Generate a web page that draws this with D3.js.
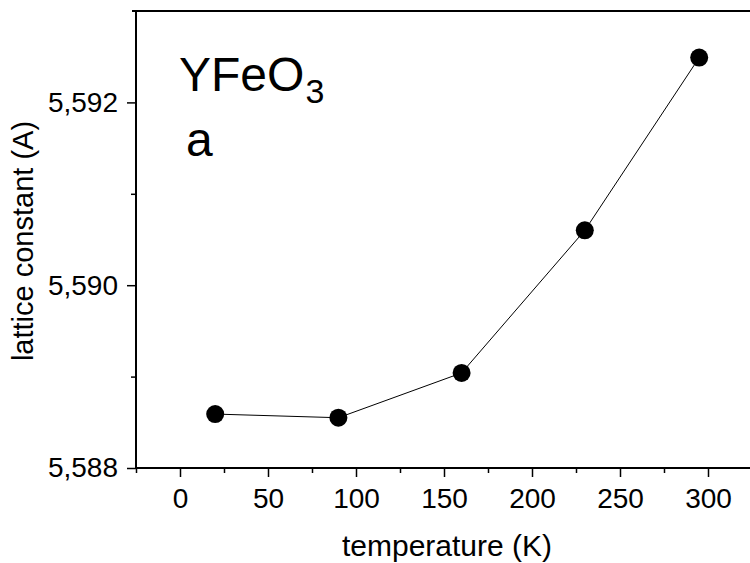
<!DOCTYPE html>
<html><head><meta charset="utf-8">
<script src="https://cdn.jsdelivr.net/npm/d3@7"></script>
<style>body{margin:0;background:#fff}svg{display:block}text{font-family:"Liberation Sans",Arial,sans-serif;fill:#000}</style>
</head><body>
<svg id="c" width="750" height="563"></svg>
<script>
const temperature = [20, 90, 160, 230, 295];
const latticeA = [5.58859, 5.58855, 5.58904, 5.5906, 5.59249];
const xTicks = [0, 50, 100, 150, 200, 250, 300];
const xMinorTicks = [-25, 25, 75, 125, 175, 225, 275, 325];
const yTicks = [5.588, 5.590, 5.592];
const yMinorTicks = [5.589, 5.591];

const svg = d3.select("#c");
const L = 136, R = 752, T = 11, B = 468;
const x = d3.scaleLinear().domain([-25, 325]).range([L, R]);
const y = d3.scaleLinear().domain([5.588, 5.593]).range([B, T]);
const fmt = d => d3.format(".3f")(d).replace(".", ",");

svg.append("g").attr("transform", `translate(0,${B})`)
  .call(d3.axisBottom(x).tickValues(xTicks).tickSize(9).tickPadding(11).tickFormat(d3.format("d")));
svg.append("g").attr("transform", `translate(0,${B})`)
  .call(d3.axisBottom(x).tickValues(xMinorTicks).tickSize(5).tickFormat(""));
svg.append("g").attr("transform", `translate(${L},0)`)
  .call(d3.axisLeft(y).tickValues(yTicks).tickSize(9).tickPadding(9).tickFormat(fmt));
svg.append("g").attr("transform", `translate(${L},0)`)
  .call(d3.axisLeft(y).tickValues(yMinorTicks).tickSize(5).tickFormat(""));
svg.selectAll(".domain").remove();
svg.selectAll(".tick line").attr("stroke", "#000").attr("stroke-width", 1.5);
svg.selectAll(".tick text").attr("font-size", 28).attr("font-family", "Liberation Sans, Arial, sans-serif");

svg.append("line").attr("x1", L).attr("x2", L).attr("y1", T).attr("y2", B).attr("stroke", "#000").attr("stroke-width", 2);
svg.append("line").attr("x1", L).attr("x2", 750).attr("y1", B).attr("y2", B).attr("stroke", "#000").attr("stroke-width", 2);
svg.append("line").attr("x1", L - 4).attr("x2", 750).attr("y1", T).attr("y2", T).attr("stroke", "#000").attr("stroke-width", 2);

const pts = temperature.map((t, i) => [t, latticeA[i]]);
svg.append("path").datum(pts)
  .attr("d", d3.line().x(d => x(d[0])).y(d => y(d[1])))
  .attr("fill", "none").attr("stroke", "#000").attr("stroke-width", 1);
svg.selectAll("circle.pt").data(pts).join("circle")
  .attr("cx", d => x(d[0])).attr("cy", d => y(d[1])).attr("r", 9).attr("fill", "#000");

svg.append("text").attr("x", 447).attr("y", 556).attr("text-anchor", "middle")
  .attr("font-size", 30).text("temperature (K)");
svg.append("text").attr("transform", "translate(33,241) rotate(-90)").attr("text-anchor", "middle")
  .attr("font-size", 29).text("lattice constant (A)");

const lab = svg.append("text").attr("x", 179).attr("y", 91).attr("font-size", 48);
lab.append("tspan").text("YFeO");
lab.append("tspan").attr("font-size", 34).attr("dx", 1).attr("dy", 12).text("3");
svg.append("text").attr("x", 186).attr("y", 156).attr("font-size", 48).text("a");
</script>
</body></html>
